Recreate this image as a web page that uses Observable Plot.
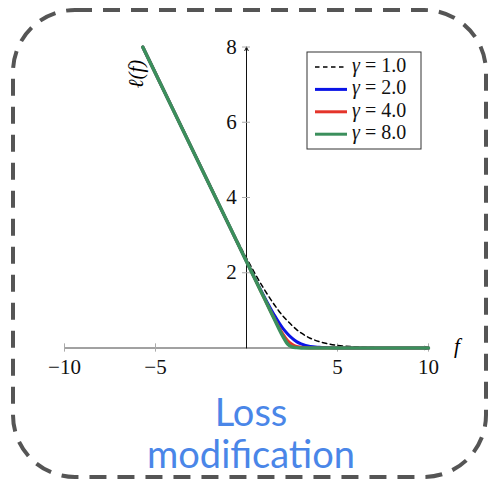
<!DOCTYPE html>
<html>
<head>
<meta charset="utf-8">
<script src="https://cdn.jsdelivr.net/npm/d3@7"></script>
<script src="https://cdn.jsdelivr.net/npm/@observablehq/plot@0.6"></script>
<style>
  html, body { margin: 0; padding: 0; background: #fff; }
  #chart { position: relative; width: 491px; height: 487px; }
</style>
</head>
<body>
<div id="chart"></div>
<script>
// ---- data ----
const fVals = [-5.7, -4, -2, 0, 0.5, 1, 1.5, 2, 2.25, 2.5, 2.75, 3, 3.5, 4, 4.5, 5, 6, 7, 8, 10];
const loss1 = [8.0, 6.30, 4.31, 2.39, 1.95, 1.54, 1.17, 0.85, 0.72, 0.60, 0.49, 0.40, 0.26, 0.17, 0.11, 0.07, 0.03, 0.01, 0.0, 0.0];
const loss2 = [8.0, 6.30, 4.30, 2.30, 1.81, 1.34, 0.90, 0.52, 0.38, 0.26, 0.17, 0.11, 0.04, 0.02, 0.01, 0.0, 0.0, 0.0, 0.0, 0.0];
const loss4 = [8.0, 6.30, 4.30, 2.30, 1.80, 1.30, 0.81, 0.37, 0.20, 0.10, 0.04, 0.02, 0.0, 0.0, 0.0, 0.0, 0.0, 0.0, 0.0, 0.0];
const loss8 = [8.0, 6.30, 4.30, 2.30, 1.80, 1.30, 0.80, 0.31, 0.11, 0.03, 0.01, 0.0, 0.0, 0.0, 0.0, 0.0, 0.0, 0.0, 0.0, 0.0];
const gammas = ["1.0", "2.0", "4.0", "8.0"];
const seriesColors = ["#000000", "#0a14e6", "#e4342a", "#3b8f5c"];
const xTicks = [-10, -5, 5, 10];
const yTicks = [2, 4, 6, 8];
const xDomain = [-10, 10];
const yDomain = [0, 8];

const allLoss = [loss1, loss2, loss4, loss8];
const rows = allLoss.map((arr, k) => fVals.map((f, i) => ({f, v: arr[i], g: gammas[k]})));

const serif = "Liberation Serif, DejaVu Serif, serif";

const plot = Plot.plot({
  width: 491,
  height: 487,
  marginLeft: 64,
  marginRight: 63,
  marginTop: 46.5,
  marginBottom: 139.5,
  x: {domain: xDomain, axis: null},
  y: {domain: yDomain, axis: null},
  style: {fontFamily: serif, fontSize: "21px", background: "transparent", overflow: "visible"},
  marks: [
    // axes
    Plot.arrow([0], {x1: xDomain[0], y1: 0, x2: xDomain[1], y2: 0, stroke: "#444", strokeWidth: 1, headLength: 6, headAngle: 50}),
    Plot.arrow([0], {x1: 0, y1: yDomain[0], x2: 0, y2: yDomain[1], stroke: "#111", strokeWidth: 1, headLength: 6, headAngle: 50}),
    Plot.ruleX(xTicks, {x: d => d, y1: -0.11, y2: 0.11, stroke: "#aaa", strokeWidth: 1}),
    Plot.ruleY(yTicks, {y: d => d, x1: -0.22, x2: 0.22, stroke: "#aaa", strokeWidth: 1}),
    Plot.text(xTicks, {x: d => d, y: 0, dy: 19, text: d => d < 0 ? "\u2212" + Math.abs(d) : String(d), fontSize: 21, fontFamily: serif, fill: "#111"}),
    Plot.text(yTicks, {x: 0, y: d => d, dx: -15, text: d => String(d), fontSize: 21, fontFamily: serif, fill: "#111"}),
    // curves
    Plot.line(rows[0], {x: "f", y: "v", stroke: seriesColors[0], strokeWidth: 1.5, strokeDasharray: "4.5 3.5", curve: "monotone-x"}),
    Plot.line(rows[1], {x: "f", y: "v", stroke: seriesColors[1], strokeWidth: 3, curve: "monotone-x"}),
    Plot.line(rows[2], {x: "f", y: "v", stroke: seriesColors[2], strokeWidth: 3, curve: "monotone-x"}),
    Plot.line(rows[3], {x: "f", y: "v", stroke: seriesColors[3], strokeWidth: 3.5, curve: "monotone-x"})
  ]
});

document.getElementById("chart").appendChild(plot);

const svg = d3.select(plot);
const sx = plot.scale("x"), sy = plot.scale("y");

function styleText(sel, size, family, extra) {
  sel.style("font-family", family).style("font-size", size + "px");
  if (extra) for (const k in extra) sel.style(k, extra[k]);
  return sel;
}

// axis labels
styleText(svg.append("text")
  .attr("transform", `translate(${sx.apply(-5.95)},${sy.apply(7.27)}) rotate(-90)`)
  .attr("text-anchor", "middle").attr("dominant-baseline", "middle"),
  21, serif, {"font-style": "italic"})
  .text("\u2113(f)");
styleText(svg.append("text")
  .attr("x", sx.apply(10) + 29).attr("y", sy.apply(0) + 1)
  .attr("text-anchor", "middle").attr("dominant-baseline", "middle"),
  21, serif, {"font-style": "italic"})
  .text("f");

// legend
const lg = svg.append("g");
lg.append("rect").attr("x", 307).attr("y", 52).attr("width", 114).attr("height", 97)
  .attr("fill", "#fff").attr("stroke", "#333").attr("stroke-width", 1);
gammas.forEach((g, i) => {
  const y = 67 + i * 22.4;
  lg.append("line").attr("x1", 315).attr("x2", 347).attr("y1", y).attr("y2", y)
    .attr("stroke", seriesColors[i]).attr("stroke-width", i === 0 ? 1.5 : 3)
    .attr("stroke-dasharray", i === 0 ? "4.5 3.5" : null);
  const t = styleText(lg.append("text").attr("x", 352).attr("y", y)
    .attr("text-anchor", "start").attr("dominant-baseline", "middle")
    .attr("fill", "#111"), 20, serif);
  t.append("tspan").style("font-style", "italic").text("\u03b3");
  t.append("tspan").text(" = " + g);
});

// dashed rounded frame
svg.append("rect").attr("x", 13).attr("y", 10).attr("width", 473).attr("height", 467)
  .attr("rx", 62).attr("ry", 62).attr("fill", "none")
  .attr("stroke", "#555").attr("stroke-width", 4).attr("stroke-dasharray", "17 11");

// title text
const title = styleText(svg.append("text").attr("text-anchor", "middle").attr("fill", "#4a86e8"),
  38, "Lato, Open Sans, sans-serif");
title.append("tspan").attr("x", 251).attr("y", 426).text("Loss");
title.append("tspan").attr("x", 251).attr("y", 468).text("modification");
</script>
</body>
</html>
